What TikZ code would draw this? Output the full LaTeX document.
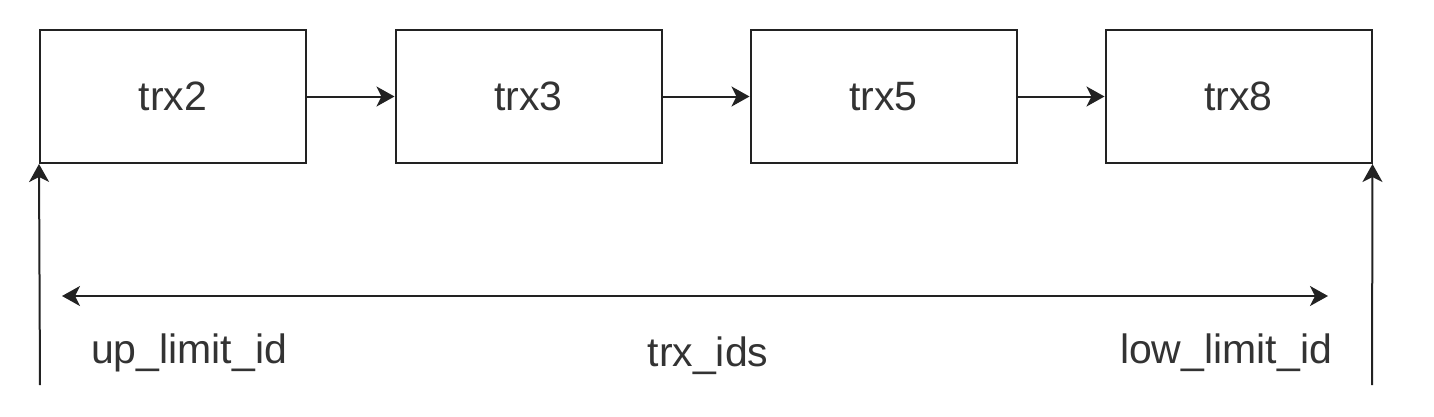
\documentclass[tikz,border=0pt]{standalone}
\usepackage{fontspec}
\setmainfont{Liberation Sans}
\usetikzlibrary{arrows.meta}
\definecolor{txt}{HTML}{333333}
\definecolor{ln}{HTML}{222222}
\begin{document}
\begin{tikzpicture}[x=1pt,y=-1pt,
  trxbox/.style={draw=ln,line width=2pt,minimum width=266pt,minimum height=133pt,inner sep=0pt,text=txt,font=\fontsize{41}{48}\selectfont},
  lbl/.style={text=txt,inner sep=0pt,font=\fontsize{41}{48}\selectfont},
  conn/.style={draw=ln,line width=2pt,-{Stealth[length=18pt,width=20pt,inset=5pt]}},
  dconn/.style={draw=ln,line width=2pt,{Stealth[length=18pt,width=20pt,inset=5pt]}-{Stealth[length=18pt,width=20pt,inset=5pt]}}]
\useasboundingbox (0,0) rectangle (1434,416);
\node[trxbox] (t2) at (173,96.5) {trx2};
\node[trxbox] (t3) at (528.5,96.5) {trx3};
\node[trxbox] (t5) at (883.5,96.5) {trx5};
\node[trxbox] (t8) at (1238.5,96.5) {trx8};
\draw[conn] (t2) -- (t3);
\draw[conn] (t3) -- (t5);
\draw[conn] (t5) -- (t8);
\coordinate (ul) at (40,385);
\coordinate (ll) at (1372,385);
\draw[conn] (ul) -- (t2.south west);
\draw[conn] (ll) -- (t8.south east);
\coordinate (dl) at (62,296);
\coordinate (dr) at (1328,296);
\draw[dconn] (dl) -- (dr);
\node[lbl,anchor=base] (up) at (189,363) {up\_limit\_id};
\node[lbl,anchor=base] (ids) at (708,366) {trx\_ids};
\node[lbl,anchor=base] (low) at (1226,363) {low\_limit\_id};
\end{tikzpicture}
\end{document}
